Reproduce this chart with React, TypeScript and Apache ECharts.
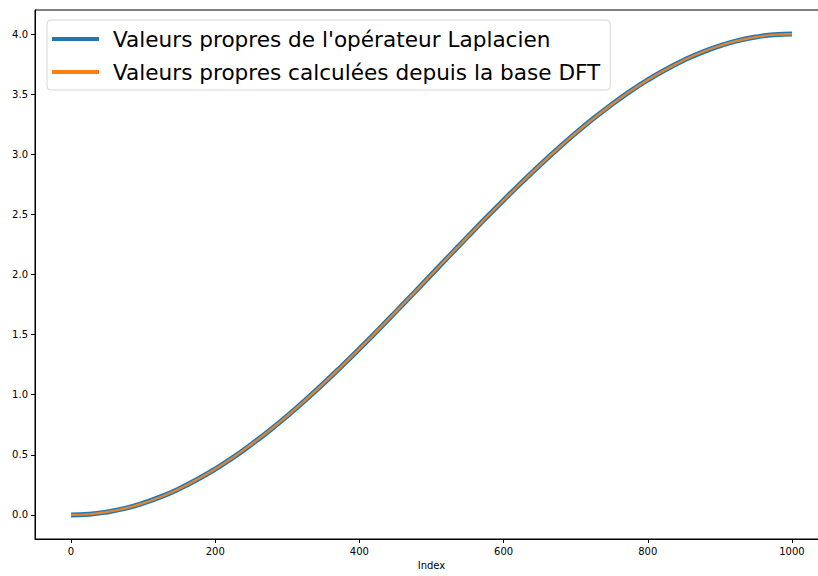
import React, { useEffect, useRef } from "react";
import * as echarts from "echarts";

const indices = [0, 25, 50, 75, 100, 125, 150, 175, 200, 225, 250, 275, 300, 325, 350, 375, 400, 425, 450, 475, 500, 525, 550, 575, 600, 625, 650, 675, 700, 725, 750, 775, 800, 825, 850, 875, 900, 925, 950, 975, 1000];
const laplacianValues = [0, 0.006, 0.025, 0.055, 0.098, 0.152, 0.218, 0.295, 0.382, 0.479, 0.586, 0.701, 0.824, 0.955, 1.092, 1.235, 1.382, 1.533, 1.687, 1.843, 2.0, 2.157, 2.313, 2.467, 2.618, 2.765, 2.908, 3.045, 3.176, 3.299, 3.414, 3.521, 3.618, 3.705, 3.782, 3.848, 3.902, 3.945, 3.975, 3.994, 4.0];
const dftValues = [0, 0.006, 0.025, 0.055, 0.098, 0.152, 0.218, 0.295, 0.382, 0.479, 0.586, 0.701, 0.824, 0.955, 1.092, 1.235, 1.382, 1.533, 1.687, 1.843, 2.0, 2.157, 2.313, 2.467, 2.618, 2.765, 2.908, 3.045, 3.176, 3.299, 3.414, 3.521, 3.618, 3.705, 3.782, 3.848, 3.902, 3.945, 3.975, 3.994, 4.0];
const xTicks = [0, 200, 400, 600, 800, 1000];
const yTicks = [0, 0.5, 1.0, 1.5, 2.0, 2.5, 3.0, 3.5, 4.0];
const seriesNames = ["Valeurs propres de l'opérateur Laplacien", "Valeurs propres calculées depuis la base DFT"];

export default function App() {
  const ref = useRef<HTMLDivElement>(null);
  useEffect(() => {
    document.body.style.margin = "0";
    const chart = echarts.init(ref.current!, null, { renderer: "svg" });
    const font = "DejaVu Sans";
    chart.setOption({
      animation: false,
      backgroundColor: "#ffffff",
      grid: {
        left: 35,
        top: 10,
        width: 793,
        height: 529,
        show: true,
        borderColor: "#000000",
        borderWidth: 1,
        backgroundColor: "transparent",
      },
      legend: {
        left: 47,
        top: 20,
        orient: "vertical",
        icon: "rect",
        itemWidth: 47,
        itemHeight: 4,
        itemGap: 11,
        padding: [8, 10, 7, 5],
        backgroundColor: "#ffffff",
        borderColor: "#d6d6d6",
        borderWidth: 1,
        borderRadius: 4,
        textStyle: { fontFamily: font, fontSize: 21.6, color: "#000000", padding: [0, 0, 0, 9] },
        data: seriesNames,
      },
      xAxis: {
        type: "value",
        min: -50,
        max: 1050,
        name: "Index",
        nameLocation: "middle",
        nameGap: 20,
        nameTextStyle: { fontFamily: font, fontSize: 10, color: "#000" },
        splitLine: { show: false },
        axisLine: { show: true, onZero: false, lineStyle: { color: "#000", width: 1 } },
        axisTick: { show: true, length: 4, customValues: xTicks, lineStyle: { color: "#000" } },
        axisLabel: {
          customValues: xTicks,
          margin: 7,
          fontFamily: font,
          fontSize: 10,
          color: "#000",
          formatter: (v: number) => String(v),
        },
      },
      yAxis: {
        type: "value",
        min: -0.2,
        max: 4.2,
        splitLine: { show: false },
        axisLine: { show: true, onZero: false, lineStyle: { color: "#000", width: 1 } },
        axisTick: { show: true, length: 4, customValues: yTicks, lineStyle: { color: "#000" } },
        axisLabel: {
          customValues: yTicks,
          margin: 7,
          fontFamily: font,
          fontSize: 10,
          color: "#000",
          formatter: (v: number) => v.toFixed(1),
        },
      },
      series: [
        {
          name: seriesNames[0],
          type: "line",
          data: indices.map((x, i) => [x, laplacianValues[i]]),
          smooth: true,
          showSymbol: false,
          color: "#1f77b4",
          lineStyle: { width: 5, color: "#1f77b4" },
        },
        {
          name: seriesNames[1],
          type: "line",
          data: indices.map((x, i) => [x, dftValues[i]]),
          smooth: true,
          showSymbol: false,
          color: "#ff7f0e",
          lineStyle: { width: 2.2, color: "#e8852a" },
        },
      ],
    });
    return () => chart.dispose();
  }, []);
  return (
    <div style={{ width: 818, height: 576, overflow: "hidden", position: "relative" }}>
      <div ref={ref} style={{ width: 840, height: 576 }} />
    </div>
  );
}
